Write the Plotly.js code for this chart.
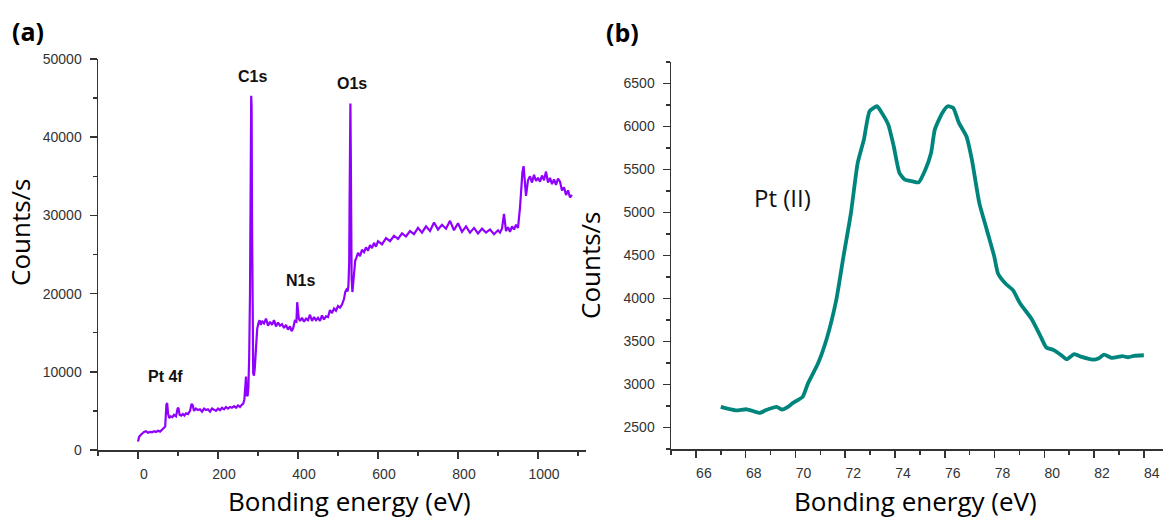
<!DOCTYPE html>
<html>
<head>
<meta charset="utf-8">
<script src="https://cdn.plot.ly/plotly-3.0.1.min.js"></script>
<style>html,body{margin:0;padding:0;background:#fff;}#chart{width:1163px;height:518px;}</style>
</head>
<body>
<div id="chart"></div>
<script>
// Panel (a): survey spectrum
const surveyEnergy = [0,3,6,10,15,20,25,30,35,40,45,50,55,60,65,68,71,73,75,78,82,86,90,95,99,101,104,108,112,116,120,125,130,134,137,140,145,150,155,160,165,170,175,180,185,190,195,200,205,210,215,220,225,230,235,240,245,250,255,260,263,266,268,270,272,274,276,278,280,282,283,284,285,286,287,288,290,292,295,298,301,304,307,310,315,320,325,330,335,340,345,350,355,360,365,370,375,380,384,388,392,396,398,400,402,405,410,415,420,425,430,435,440,445,450,455,460,465,470,475,480,485,490,495,500,505,510,515,518,521,524,526,528,529,530,531,532,533,534,536,538,540,543,546,550,555,560,565,570,575,580,585,590,595,600,610,620,630,640,650,660,670,680,690,700,710,720,730,740,750,760,770,780,790,800,810,820,830,840,850,860,870,880,890,900,905,910,915,920,925,930,935,940,945,950,955,958,961,964,967,970,975,980,985,990,995,1000,1005,1010,1015,1020,1025,1030,1035,1040,1045,1050,1055,1060,1065,1070,1075,1080,1085];
const surveyCounts = [1100,1700,1900,2100,2300,2400,2200,2300,2250,2400,2300,2450,2350,2600,2800,3000,5800,6000,4700,4100,4300,4200,4500,4300,5300,5400,4500,4400,4600,4400,4700,4600,5000,5900,5700,5000,5300,5100,5200,4900,5300,5100,5200,4900,5300,5100,5000,5300,5100,5400,5200,5500,5300,5500,5400,5600,5400,5700,5500,5800,5900,6500,9200,9400,7000,6900,8000,12000,20000,38000,45300,44000,30000,18000,12000,9800,9500,10500,13000,15500,16200,16600,16000,16500,16200,16800,15900,16400,16000,16600,15800,16300,15900,16100,15600,16000,15400,15800,15200,15600,16500,16400,18900,17600,16800,16500,16900,16400,16800,16600,17300,16500,17000,16600,16900,16500,17200,16700,17100,17000,17900,17500,18100,17800,18400,18200,18600,19300,20200,20500,20300,21000,24000,32000,40000,44300,38000,28000,22000,20200,21500,23000,24200,24600,25200,24800,25600,25300,25900,25500,26200,25800,26500,26000,26700,26300,27100,26700,27400,27000,27700,27300,28000,27600,28400,27800,28600,28000,29100,28200,28800,28300,29300,28100,29000,27900,28600,27800,28400,27700,28300,27800,28200,27600,28100,27800,28300,30200,28000,28500,27900,28600,28200,28800,28400,31000,33500,35500,36300,34000,32500,34500,35000,34200,35200,34400,34800,34300,35100,34500,35600,34200,34800,34000,34600,33900,34700,34300,33200,33600,32600,33200,32300,32600];
const peakLabels = ["C1s","O1s","N1s","Pt 4f"];
const peakLabelX = [285,534,405,69];
const peakLabelY = [47800,46900,21700,9400];

// Panel (b): Pt 4f high-resolution spectrum
const ptEnergy = [67.0,67.6,68.05,68.57,68.8,69.24,69.47,69.7,69.9,70.29,70.5,70.9,71.26,71.64,71.93,72.23,72.5,72.75,72.98,73.28,73.43,73.73,73.95,74.18,74.4,74.7,74.95,75.22,75.45,75.6,75.9,76.12,76.34,76.57,76.87,77.09,77.39,77.69,77.99,78.14,78.44,78.74,79.03,79.48,79.86,80.08,80.38,80.68,80.9,81.2,81.5,81.95,82.17,82.4,82.7,83.14,83.37,83.6,84.0];
const ptCounts = [2740,2700,2712,2670,2700,2740,2708,2740,2786,2856,3010,3240,3535,3980,4488,4993,5575,5847,6178,6236,6178,6022,5770,5459,5381,5362,5350,5497,5692,5964,6158,6236,6216,6042,5886,5614,5109,4798,4488,4291,4174,4097,3942,3767,3554,3430,3400,3341,3294,3352,3321,3290,3302,3348,3310,3329,3317,3333,3340];
const ptLabel = "Pt (II)";

const W = 1163, H = 518;
const px = v => v / W, py = v => 1 - v / H;

const tickFont = {family: "Liberation Sans, Arial, sans-serif", size: 14, color: "#333"};
const titleFont = {family: "Open Sans, Noto Sans, sans-serif", size: 26, color: "#000"};
const minorBase = {ticks: "outside", ticklen: 4, tickwidth: 1.5, tickcolor: "#333", showgrid: false};

function axisBase(extra) {
  return Object.assign({
    showline: true, linecolor: "#333", linewidth: 1.5,
    ticks: "outside", ticklen: 7, tickwidth: 1.5, tickcolor: "#333",
    showgrid: false, zeroline: false, mirror: false,
    tickfont: tickFont, tickformat: "d"
  }, extra);
}

const traces = [
  {x: surveyEnergy, y: surveyCounts, type: "scatter", mode: "lines",
   line: {color: "#8f00ff", width: 2.2}, xaxis: "x", yaxis: "y", hoverinfo: "skip"},
  {x: ptEnergy, y: ptCounts, type: "scatter", mode: "lines",
   line: {color: "#00857d", width: 3.8, shape: "spline", smoothing: 0.5}, xaxis: "x2", yaxis: "y2", hoverinfo: "skip"}
];

const annotations = peakLabels.map((t, i) => ({
  text: "<b>" + t + "</b>", x: peakLabelX[i], y: peakLabelY[i], xref: "x", yref: "y",
  xanchor: "center", yanchor: "middle",
  showarrow: false, font: {family: "Liberation Sans, Arial, sans-serif", size: 16, color: "#111"}
}));
const paperText = (text, x, y, font, angle) => ({text: text, x: px(x), y: py(y), xref: "paper", yref: "paper",
  xanchor: "center", yanchor: "middle", showarrow: false, textangle: angle || 0, font: font});
annotations.push({text: ptLabel, x: 69.5, y: 5170, xref: "x2", yref: "y2", xanchor: "center", yanchor: "middle", showarrow: false,
  font: {family: "Open Sans, Noto Sans, sans-serif", size: 24, color: "#111"}});
annotations.push(paperText("<b>(a)</b>", 28, 31, {family: "Open Sans, Noto Sans, sans-serif", size: 25, color: "#000"}));
annotations.push(paperText("<b>(b)</b>", 622, 32, {family: "Open Sans, Noto Sans, sans-serif", size: 25, color: "#000"}));
annotations.push(paperText("Counts/s", 20, 232, titleFont, -90));
annotations.push(paperText("Counts/s", 590, 265, titleFont, -90));
annotations.push(paperText("Bonding energy (eV)", 349, 501, titleFont));
annotations.push(paperText("Bonding energy (eV)", 915, 501, titleFont));

const layout = {
  width: W, height: H, margin: {l: 0, r: 0, t: 0, b: 0},
  paper_bgcolor: "#fff", plot_bgcolor: "#fff", showlegend: false,
  xaxis: axisBase({domain: [px(98), px(586)], range: [-100, 1120], tick0: 0, dtick: 200,
    ticklabelshift: 6, ticklabelstandoff: 4,
    minor: Object.assign({dtick: 100, tick0: 0}, minorBase), anchor: "y"}),
  yaxis: axisBase({domain: [py(450), py(59)], range: [0, 50000], tick0: 0, dtick: 10000,
    ticklabelstandoff: 5,
    minor: Object.assign({dtick: 5000, tick0: 0}, minorBase), anchor: "x"}),
  xaxis2: axisBase({domain: [px(671), 1], range: [65, 84.77], tick0: 66, dtick: 2,
    ticklabelshift: 8, ticklabelstandoff: 4,
    minor: Object.assign({dtick: 1, tick0: 65}, minorBase), anchor: "y2"}),
  yaxis2: axisBase({domain: [py(449), py(62)], range: [2250, 6750], tick0: 2500, dtick: 500,
    ticklabelstandoff: 5,
    minor: Object.assign({dtick: 250, tick0: 2250}, minorBase), anchor: "x2"}),
  annotations: annotations
};

Plotly.newPlot("chart", traces, layout, {staticPlot: true, displayModeBar: false});
</script>
</body>
</html>
